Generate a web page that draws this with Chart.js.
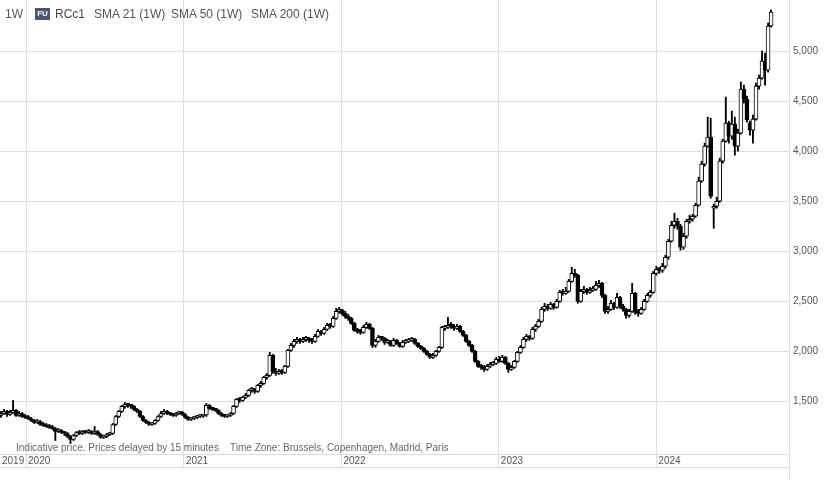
<!DOCTYPE html>
<html lang="en">
<head>
<meta charset="UTF-8">
<title>RCc1 1W</title>
<script src="https://cdn.jsdelivr.net/npm/chart.js"></script>
<style>
  html, body { margin: 0; padding: 0; background: #fff; }
  #wrap { position: relative; width: 824px; height: 481px; font-family: 'Liberation Sans', Arial, sans-serif; }
  #wrap canvas { position: absolute; left: 0; top: 0; }
  .hdr { position: absolute; top: 7px; font-size: 12px; line-height: 14px; color: #555; white-space: nowrap; }
  .badge { position: absolute; left: 35px; top: 8px; width: 15px; height: 12px; background: #4b5571; color: #fff;
           font-size: 8px; font-weight: bold; line-height: 12px; text-align: center; }
  .note { position: absolute; top: 442px; font-size: 10px; line-height: 12px; color: #666; white-space: nowrap; }
</style>
</head>
<body>
<div id="wrap">
  <canvas id="chart" width="824" height="481"></canvas>
  <div class="hdr" style="left:5px">1W</div>
  <div class="badge">FU</div>
  <div class="hdr" style="left:55px;color:#444">RCc1</div>
  <div class="hdr" style="left:94px">SMA 21 (1W)</div>
  <div class="hdr" style="left:171px">SMA 50 (1W)</div>
  <div class="hdr" style="left:251px">SMA 200 (1W)</div>
  <div class="note" style="left:16px">Indicative price. Prices delayed by 15 minutes</div>
  <div class="note" style="left:230px">Time Zone: Brussels, Copenhagen, Madrid, Paris</div>
</div>

<script>
    // weekly candles, first week starts 4 Nov 2019
    const startDate = '2019-11-04';
    const years = [2020, 2021, 2022, 2023, 2024];
    const yTicks = [1500, 2000, 2500, 3000, 3500, 4000, 4500, 5000];

    const opens = [
        1360,1380,1400,1370,1390,1410,1360,1380,1350,1340, 1330,1310,1290,1300,1270,1260,1250,1240,1230,1200,
        1210,1190,1180,1150,1120,1160,1190,1180,1200,1190, 1200,1180,1200,1170,1140,1150,1170,1180,1270,1350,
        1400,1450,1470,1460,1450,1420,1400,1350,1310,1290, 1270,1280,1310,1350,1380,1400,1380,1370,1360,1380,
        1390,1370,1340,1320,1330,1340,1350,1355,1365,1460, 1430,1420,1410,1380,1360,1350,1360,1380,1450,1520,
        1510,1540,1560,1610,1620,1600,1660,1680,1740,1760, 1960,1800,1780,1800,1790,1850,2010,2060,2100,2120,
        2100,2120,2130,2110,2100,2150,2200,2180,2220,2260, 2250,2330,2400,2410,2380,2350,2330,2280,2210,2200,
        2190,2240,2270,2230,2060,2100,2140,
        2130,2090,2100,2060,2110,2080,2050,2090,2100,2110, 2120,2080,2050,2030,2000,1970,1940,1960,2000,2040,
        2230,2240,2260,2250,2230,2250,2200,2160,2100,2060, 2000,1900,1850,1840,1820,1850,1870,1880,1920,1900,
        1940,1880,1820,1840,1900,1990,2040,2120,2150,2130, 2220,2250,2300,2420,2450,2430,2470,2440,2500,2590,
        2580,2600,2700,2780,2760,2500,2600,2620,2590,2610, 2620,2660,2680,2560,2400,2420,2480,2440,2540,2450,
        2420,2360,2400,2580,2390,2380,2420,2500,2560,2590, 2780,2820,2810,2850,2940,3100,3260,3300,3250,3040,
        3150,3300,3320,3350,3460,3700,3870,4050,4140,3430, 3450,3500,3900,4100,4280,4150,4270,4050,4180,4620,
        4520,4280,4210,4320,4650,4730,4900,4810,5250
    ];
    const highs = [
        1400,1420,1410,1410,1510,1420,1400,1390,1370,1360, 1340,1320,1320,1310,1290,1280,1270,1260,1240,1230,
        1220,1200,1190,1160,1170,1200,1210,1210,1210,1220, 1210,1250,1210,1180,1160,1180,1190,1280,1360,1410,
        1460,1490,1480,1470,1460,1430,1410,1360,1320,1300, 1290,1320,1360,1400,1420,1410,1390,1380,1390,1400,
        1400,1380,1350,1340,1350,1360,1370,1370,1480,1470, 1440,1430,1420,1390,1370,1370,1390,1460,1530,1540,
        1550,1580,1620,1640,1630,1670,1700,1750,1780,1990, 1970,1830,1820,1820,1860,2020,2080,2120,2140,2130,
        2140,2150,2140,2130,2170,2220,2210,2240,2280,2280, 2350,2430,2440,2420,2400,2370,2340,2290,2230,2220,
        2260,2290,2280,2240,2120,2160,2150,
        2140,2120,2110,2130,2120,2090,2110,2120,2130,2140, 2130,2090,2060,2040,2010,1980,1980,2010,2050,2250,
        2260,2340,2290,2270,2270,2260,2210,2170,2110,2070, 2010,1910,1870,1860,1870,1890,1900,1940,1950,1960,
        1950,1890,1860,1910,2000,2060,2140,2170,2160,2240, 2270,2320,2440,2480,2470,2490,2480,2520,2610,2620,
        2640,2720,2840,2820,2770,2620,2650,2630,2640,2650, 2700,2710,2690,2570,2450,2510,2490,2580,2550,2470,
        2430,2420,2680,2590,2420,2440,2520,2580,2610,2800, 2850,2840,2880,2960,3120,3300,3380,3330,3270,3180,
        3320,3360,3370,3480,3740,3900,4080,4340,4330,3470, 3540,3930,4120,4540,4300,4400,4340,4220,4690,4660,
        4550,4300,4360,4680,4760,5000,4980,5280,5410
    ];
    const lows = [
        1340,1370,1350,1360,1380,1350,1350,1340,1330,1320, 1300,1280,1280,1260,1250,1240,1230,1220,1110,1190,
        1180,1160,1140,1080,1110,1150,1170,1170,1180,1180, 1170,1170,1160,1130,1130,1140,1160,1170,1260,1340,
        1390,1430,1440,1430,1410,1390,1340,1300,1280,1260, 1260,1270,1300,1340,1370,1370,1360,1350,1350,1370,
        1360,1330,1310,1310,1320,1330,1340,1340,1350,1420, 1410,1400,1370,1350,1340,1340,1350,1370,1440,1490,
        1500,1530,1550,1590,1580,1590,1640,1670,1720,1750, 1780,1760,1770,1770,1780,1840,2000,2040,2080,2080,
        2090,2100,2090,2080,2090,2140,2160,2170,2210,2230, 2240,2320,2380,2360,2330,2310,2270,2200,2180,2170,
        2180,2230,2220,2040,2040,2090,2110,
        2070,2080,2050,2050,2070,2040,2040,2080,2090,2100, 2070,2040,2020,1990,1960,1930,1930,1950,1990,2030,
        2210,2230,2230,2210,2220,2190,2150,2090,2050,1990, 1890,1840,1820,1800,1810,1840,1860,1870,1890,1890,
        1870,1790,1810,1830,1890,1980,2030,2100,2110,2120, 2200,2240,2290,2400,2410,2420,2420,2430,2490,2560,
        2570,2590,2690,2740,2480,2490,2580,2570,2580,2600, 2610,2640,2540,2380,2380,2410,2420,2430,2430,2400,
        2330,2340,2390,2370,2350,2370,2410,2490,2540,2580, 2760,2780,2790,2830,2920,3090,3230,3220,3010,3020,
        3130,3280,3300,3340,3450,3690,3850,4040,3530,3230, 3430,3490,3880,4090,4080,4120,3960,4000,4170,4480,
        4290,4160,4080,4310,4620,4720,4660,4790,5240
    ];
    const closes = [
        1380,1400,1370,1390,1410,1360,1380,1350,1340,1330, 1310,1290,1300,1270,1260,1250,1240,1230,1200,1210,
        1190,1180,1150,1120,1160,1190,1180,1200,1190,1200, 1180,1200,1170,1140,1150,1170,1180,1270,1350,1400,
        1450,1470,1460,1450,1420,1400,1350,1310,1290,1270, 1280,1310,1350,1380,1400,1380,1370,1360,1380,1390,
        1370,1340,1320,1330,1340,1350,1360,1365,1460,1430, 1420,1410,1380,1360,1350,1360,1380,1450,1520,1510,
        1540,1560,1610,1620,1600,1660,1680,1740,1760,1960, 1800,1780,1800,1790,1850,2010,2060,2100,2120,2100,
        2120,2130,2110,2100,2150,2200,2180,2220,2260,2250, 2330,2400,2410,2380,2350,2330,2280,2210,2200,2190,
        2240,2270,2230,2060,2100,2140,2130,
        2090,2100,2060,2110,2080,2050,2090,2100,2110,2120, 2080,2050,2030,2000,1970,1940,1960,2000,2040,2240,
        2240,2260,2250,2230,2250,2200,2160,2100,2060,2000, 1900,1850,1840,1820,1850,1870,1880,1920,1900,1940,
        1880,1820,1840,1900,1990,2040,2120,2150,2130,2220, 2250,2300,2420,2450,2430,2470,2440,2500,2590,2580,
        2600,2700,2780,2760,2500,2600,2620,2590,2610,2620, 2660,2680,2560,2400,2420,2480,2440,2540,2450,2420,
        2360,2400,2580,2390,2380,2420,2500,2560,2590,2780, 2820,2810,2850,2940,3100,3260,3300,3250,3040,3150,
        3300,3320,3350,3460,3700,3870,4050,4140,3550,3450, 3500,3900,4100,4280,4150,4270,4050,4180,4620,4520,
        4310,4210,4320,4650,4730,4900,4810,5250,5390
    ];

    const fontFamily = "'Liberation Sans', Arial, sans-serif";
    Chart.defaults.font.family = fontFamily;

    // position of 1 January of each year on the week index axis
    const DAY = 24 * 3600 * 1000;
    const t0 = new Date(startDate + 'T00:00:00Z').getTime();
    const yearPos = y => (Date.UTC(y, 0, 1) - t0) / DAY / 7;

    const xMin = -0.33, xMax = 260.93;
    const xTickLabels = ['2019'].concat(years.map(String));

    const bodies = opens.map((o, i) => ({ x: i, y: [o, closes[i]] }));
    const wicks = lows.map((l, i) => ({ x: i, y: [l, highs[i]] }));
    const bodyColors = opens.map((o, i) => closes[i] >= o ? '#ffffff' : '#000000');

    // extra frame lines: bottom edge under the date row, axis line down to the bottom
    const frameLines = {
        id: 'frameLines',
        afterDraw(chart) {
            const { ctx, chartArea } = chart;
            const xb = Math.round(chart.scales.x.bottom) + 0.5;
            const xr = Math.round(chartArea.right) + 0.5;
            ctx.save();
            ctx.strokeStyle = '#dddddd';
            ctx.lineWidth = 1;
            ctx.beginPath();
            ctx.moveTo(chartArea.left, xb);
            ctx.lineTo(chartArea.right, xb);
            ctx.moveTo(xr, chartArea.bottom);
            ctx.lineTo(xr, chart.height - 1);
            ctx.stroke();
            ctx.restore();
        }
    };

    const ctx = document.getElementById('chart').getContext('2d');
    const chart = new Chart(ctx, {
        type: 'bar',
        data: {
            datasets: [{
                label: 'body',
                data: bodies,
                backgroundColor: bodyColors,
                borderColor: '#000000',
                borderWidth: 1,
                borderSkipped: false,
                barThickness: 4,
                minBarLength: 2,
                grouped: false,
                order: 0
            }, {
                label: 'wick',
                data: wicks,
                backgroundColor: '#000000',
                borderWidth: 0,
                barThickness: 1.2,
                grouped: false,
                order: 1
            }]
        },
        options: {
            responsive: false,
            animation: false,
            events: [],
            layout: { padding: { left: 0, right: 0, top: 0, bottom: 14 } },
            plugins: { legend: { display: false }, tooltip: { enabled: false } },
            scales: {
                x: {
                    type: 'linear',
                    min: xMin,
                    max: xMax,
                    bounds: 'data',
                    offset: false,
                    afterBuildTicks: s => {
                        s.ticks = [{ value: xMin }].concat(years.map(y => ({ value: yearPos(y) })));
                    },
                    afterFit: s => {
                        s.height = 13;
                        s.paddingLeft = 0; s.paddingRight = 0;
                    },
                    grid: {
                        color: c => c.index === 0 ? 'rgba(0,0,0,0)' : '#dddddd',
                        drawTicks: true,
                        tickLength: 13,
                        offset: false
                    },
                    border: { display: true, color: '#dddddd' },
                    ticks: {
                        autoSkip: false,
                        maxRotation: 0,
                        align: 'start',
                        labelOffset: 2,
                        padding: -12,
                        color: '#555555',
                        font: { size: 10 },
                        callback: (v, i) => xTickLabels[i]
                    }
                },
                y: {
                    position: 'right',
                    min: 975,
                    max: 5510,
                    bounds: 'data',
                    afterBuildTicks: s => { s.ticks = yTicks.map(v => ({ value: v })); },
                    afterFit: s => {
                        s.width = 35;
                        s.paddingTop = 0; s.paddingBottom = 0;
                    },
                    grid: { color: '#dddddd', drawTicks: false },
                    border: { display: true, color: '#dddddd' },
                    ticks: {
                        padding: 4,
                        color: '#555555',
                        font: { size: 10 },
                        callback: v => v.toLocaleString('en-US')
                    }
                }
            }
        },
        plugins: [frameLines]
    });
</script>
</body>
</html>
